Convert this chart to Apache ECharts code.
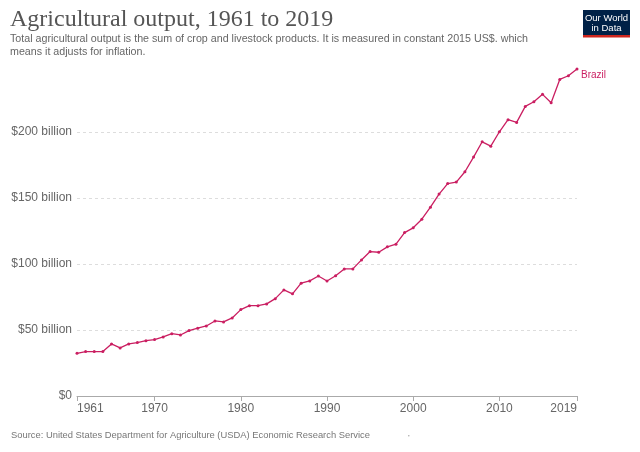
<!DOCTYPE html>
<html>
<head>
<meta charset="utf-8">
<script src="https://cdn.jsdelivr.net/npm/echarts@6/dist/echarts.min.js"></script>
<style>
html,body{margin:0;padding:0;background:#fff;}
#chart{width:640px;height:452px;}
</style>
</head>
<body>
<div id="chart"></div>
<script>
const years = [];
for (let y = 1961; y <= 2019; y++) years.push(String(y));

// Agricultural output, Brazil (billion constant 2015 US$)
const brazil = [
  32.3, 33.6, 33.6, 33.6, 39.4, 36.4, 39.4, 40.4, 41.9, 42.7,
  44.7, 47.2, 46.2, 49.5, 51.3, 53.0, 56.8, 56.1, 59.1, 65.4,
  68.4, 68.4, 69.7, 73.7, 80.3, 77.3, 85.4, 87.1, 90.8, 87.0,
  91.0, 96.2, 96.2, 103.0, 109.3, 108.8, 112.9, 114.9, 123.7, 127.3,
  133.8, 142.9, 152.8, 160.8, 161.9, 169.7, 180.8, 192.4, 189.1, 200.0,
  209.1, 207.1, 219.2, 222.7, 228.3, 222.0, 239.6, 242.4, 247.5
];

const xTickLabels = ['1961', '1970', '1980', '1990', '2000', '2010', '2019'];
const yTickValues = [0, 50, 100, 150, 200];

const seriesName = 'Brazil';
const titleText = 'Agricultural output, 1961 to 2019';
const subtitleText = 'Total agricultural output is the sum of crop and livestock products. It is measured in constant 2015 US$. which\nmeans it adjusts for inflation.';
const sourceText = 'Source: United States Department for Agriculture (USDA) Economic Research Service';

const lineColor = '#ca1e61';
const maxVal = Math.max.apply(null, brazil);

const chart = echarts.init(document.getElementById('chart'), null, {renderer: 'canvas'});
const showYear = (idx, val) => xTickLabels.indexOf(String(val)) >= 0;

chart.setOption({
  animation: false,
  backgroundColor: '#fff',
  title: [
    {
      text: titleText,
      left: 5, top: 3,
      textStyle: {fontFamily: 'Liberation Serif', fontWeight: 'normal', fontSize: 24, color: '#555'}
    },
    {
      text: subtitleText,
      left: 5, top: 27,
      textStyle: {fontFamily: 'Liberation Sans', fontWeight: 'normal', fontSize: 10.7, color: '#666', lineHeight: 13.5}
    },
    {
      text: sourceText,
      left: 6, top: 426,
      textStyle: {fontFamily: 'Liberation Sans', fontWeight: 'normal', fontSize: 9.4, color: '#777'}
    }
  ],
  graphic: [
    {type: 'rect', left: 583, top: 10, shape: {width: 47, height: 26}, style: {fill: '#002147'}},
    {type: 'rect', left: 583, top: 35, shape: {width: 47, height: 2.5}, style: {fill: '#ce261e'}},
    {type: 'text', x: 606.5, y: 18, style: {text: 'Our World', fill: '#fff', font: '9.5px Liberation Sans', align: 'center', verticalAlign: 'middle'}},
    {type: 'text', x: 606.5, y: 28.5, style: {text: 'in Data', fill: '#fff', font: '9.5px Liberation Sans', align: 'center', verticalAlign: 'middle'}},
    {type: 'circle', left: 408, top: 435, shape: {r: 0.8}, style: {fill: '#aaa'}}
  ],
  grid: {left: 77, right: 63, top: 69, bottom: 56, containLabel: false},
  xAxis: {
    type: 'category',
    data: years,
    boundaryGap: false,
    axisLine: {show: true, lineStyle: {color: '#aaa', width: 1}},
    axisTick: {show: true, interval: showYear, length: 5, lineStyle: {color: '#aaa'}},
    axisLabel: {
      interval: showYear,
      alignMinLabel: 'left', alignMaxLabel: 'right',
      color: '#666', fontFamily: 'Liberation Sans', fontSize: 12, margin: 7
    },
    splitLine: {show: false}
  },
  yAxis: {
    type: 'value',
    min: 0, max: maxVal, interval: 50,
    axisLine: {show: false},
    axisTick: {show: false},
    axisLabel: {
      showMaxLabel: false,
      color: '#666', fontFamily: 'Liberation Sans', fontSize: 12, margin: 5,
      formatter: v => (yTickValues.indexOf(v) < 0 ? '' : (v === 0 ? '$0' : '$' + v + ' billion'))
    },
    splitLine: {show: true, showMinLine: false, showMaxLine: false, lineStyle: {color: '#ddd', type: [3, 3], width: 1}}
  },
  series: [{
    name: seriesName,
    type: 'line',
    data: brazil,
    symbol: 'circle',
    symbolSize: 3,
    showSymbol: true,
    itemStyle: {color: lineColor},
    lineStyle: {color: lineColor, width: 1.3},
    endLabel: {
      show: true, formatter: seriesName, color: lineColor,
      fontFamily: 'Liberation Sans', fontSize: 10, distance: 4, offset: [0, 6]
    }
  }]
});
</script>
</body>
</html>
